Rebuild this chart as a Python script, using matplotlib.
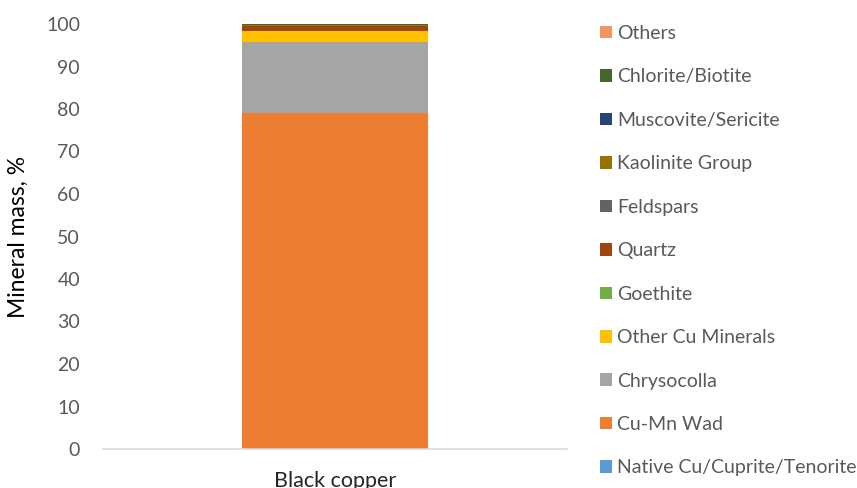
import matplotlib.pyplot as plt
from matplotlib.patches import Patch

plt.rcParams['font.family'] = ['Lato', 'DejaVu Sans']

# mineral mass (%) in the black copper sample, bottom to top of the stack
minerals = [
    'Native Cu/Cuprite/Tenorite', 'Cu-Mn Wad', 'Chrysocolla', 'Other Cu Minerals',
    'Goethite', 'Quartz', 'Feldspars', 'Kaolinite Group', 'Muscovite/Sericite',
    'Chlorite/Biotite', 'Others',
]
mass_pct = [0.1, 79.0, 16.7, 2.6, 0.05, 1.1, 0.05, 0.05, 0.2, 0.05, 0.15]
colors = [
    '#5B9BD5', '#ED7D31', '#A5A5A5', '#FFC000', '#70AD47', '#9E480E',
    '#636363', '#997300', '#264478', '#43682B', '#F1975A',
]
sample = 'Black copper'

fig = plt.figure(figsize=(8.57, 4.88), dpi=100)
ax = fig.add_axes([103 / 857, 1 - 449 / 488, 464 / 857, 425 / 488])

bottom = 0.0
for name, val, col in zip(minerals, mass_pct, colors):
    ax.bar([sample], [val], bottom=bottom, width=0.4, color=col, label=name, linewidth=0)
    bottom += val

ax.set_xlim(-0.5, 0.5)
ax.set_ylim(0, 100)
ax.set_yticks(range(0, 101, 10))
for side in ('top', 'right', 'left'):
    ax.spines[side].set_visible(False)
ax.spines['bottom'].set_color('#D9D9D9')
ax.spines['bottom'].set_linewidth(1.2)
ax.tick_params(axis='y', length=0, pad=16.5, labelsize=14, labelcolor='#595959')
ax.tick_params(axis='x', length=0, pad=16, labelsize=15.5, labelcolor='#262626')

ax.set_ylabel('Mineral mass, %', fontsize=16.5, color='black')
ax.yaxis.set_label_coords(-0.16, 0.5)

# legend lists the top of the stack first
handles = [Patch(facecolor=c, edgecolor='none') for c in colors][::-1]
fig.legend(handles, minerals[::-1], loc='upper left',
           bbox_to_anchor=(600 / 857, 1 - 25 / 488), frameon=False,
           fontsize=14, labelcolor='#595959', handlelength=0.62,
           handleheight=0.62, handletextpad=0.26, labelspacing=1.36,
           borderpad=0, borderaxespad=0)

fig.savefig('out.png', dpi=100)
